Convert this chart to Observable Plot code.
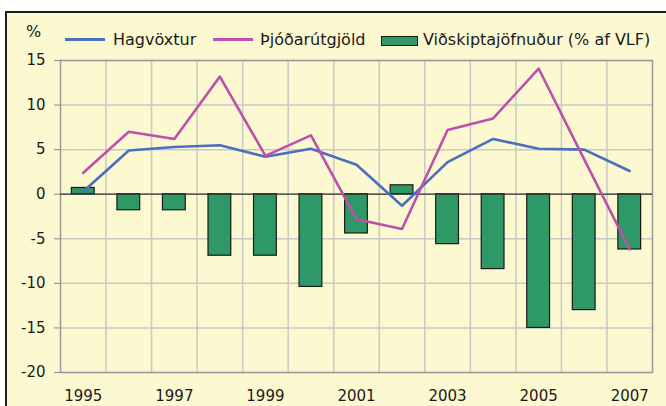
<!DOCTYPE html>
<html>
<head>
<meta charset="utf-8">
<script src="https://cdn.jsdelivr.net/npm/d3@7"></script>
<script src="https://cdn.jsdelivr.net/npm/@observablehq/plot@0.6"></script>
<style>
  html, body { margin: 0; padding: 0; background: #fff; overflow: hidden; }
  #wrap { position: relative; width: 666px; height: 406px; overflow: hidden; background: #fff;
          font-family: "DejaVu Sans", Verdana, sans-serif; color: #1a1a1a; }
  #panel { position: absolute; left: 5px; top: 11px; width: 720px; height: 460px;
           border: 2px solid #1e1e1e; background: #FCF8D0; }
  #chart { position: absolute; left: 0; top: 0; }
  .lg { position: absolute; font-size: 16px; line-height: 16px; white-space: nowrap; }
  .sw { position: absolute; }
</style>
</head>
<body>
<div id="wrap">
  <div id="panel"></div>
  <div id="chart"></div>
  <div id="legend"></div>
</div>
<script>
// ---- data ----
const years = [1995, 1996, 1997, 1998, 1999, 2000, 2001, 2002, 2003, 2004, 2005, 2006, 2007];
const hagvoxtur = [0.3, 4.9, 5.3, 5.5, 4.2, 5.1, 3.3, -1.3, 3.6, 6.2, 5.1, 5.0, 2.6];
const thjodarutgjold = [2.4, 7.0, 6.2, 13.2, 4.3, 6.6, -2.8, -3.9, 7.2, 8.5, 14.1, 3.9, -6.2];
const vidskiptajofnudur = [0.7, -1.8, -1.8, -6.9, -6.9, -10.4, -4.4, 1.0, -5.6, -8.4, -15.0, -13.0, -6.2];
const yTicks = [-20, -15, -10, -5, 0, 5, 10, 15];
const xTickYears = [1995, 1997, 1999, 2001, 2003, 2005, 2007];
const seriesNames = ["Hagvöxtur", "Þjóðarútgjöld", "Viðskiptajöfnuður (% af VLF)"];
const unitLabel = "%";

const colBlue = "#4A6FBF", colMag = "#BE4FAA", colGreen = "#2E9966";

const rows = years.map((y, i) => ({year: y, g: hagvoxtur[i], d: thjodarutgjold[i], ca: vidskiptajofnudur[i]}));
const gridX = years.slice(0, -1).map(y => y + 0.5);

const chart = Plot.plot({
  width: 666, height: 406,
  marginLeft: 60, marginRight: 14, marginTop: 60, marginBottom: 34,
  style: {background: "transparent", fontFamily: "DejaVu Sans, Verdana, sans-serif", fontSize: "15px", color: "#1a1a1a"},
  x: {domain: [1994.5, 2007.5]},
  y: {domain: [-20, 15]},
  marks: [
    Plot.ruleY(yTicks, {stroke: "#c8c8c8", strokeWidth: 1.5}),
    Plot.ruleX(gridX, {stroke: "#c8c8c8", strokeWidth: 1.5}),
    Plot.frame({stroke: "#9a9a9a", strokeWidth: 1.5}),
    Plot.rectY(rows, {x1: d => d.year - 0.25, x2: d => d.year + 0.25, y1: 0, y2: "ca",
                      fill: colGreen, stroke: "#1a1a1a", strokeWidth: 1.2}),
    Plot.ruleY([0], {stroke: "#333", strokeWidth: 1.2}),
    Plot.line(rows, {x: "year", y: "g", stroke: colBlue, strokeWidth: 2.6}),
    Plot.line(rows, {x: "year", y: "d", stroke: colMag, strokeWidth: 2.6}),
    Plot.axisY(yTicks, {tickSize: 6, tickPadding: 9, stroke: "#888", label: null, tickFormat: d => String(d), fontSize: 15}),
    Plot.axisX(xTickYears, {tickSize: 0, tickPadding: 18, label: null, tickFormat: d => String(d), fontSize: 15})
  ]
});
document.getElementById("chart").appendChild(chart);

// ---- legend (HTML, above the svg) ----
const lg = document.getElementById("legend");
function add(html) { lg.insertAdjacentHTML("beforeend", html); }
add(`<div class="lg" style="left:26px;top:24px;">${unitLabel}</div>`);
add(`<div class="sw" style="left:65px;top:38px;width:40px;height:3px;background:${colBlue}"></div>`);
add(`<div class="lg" style="left:113px;top:32px;">${seriesNames[0]}</div>`);
add(`<div class="sw" style="left:213px;top:38px;width:40px;height:3px;background:${colMag}"></div>`);
add(`<div class="lg" style="left:260px;top:32px;">${seriesNames[1]}</div>`);
add(`<div class="sw" style="left:381px;top:36px;width:35px;height:8px;background:${colGreen};border:1px solid #1a1a1a"></div>`);
add(`<div class="lg" style="left:423px;top:32px;">${seriesNames[2]}</div>`);
</script>
</body>
</html>
